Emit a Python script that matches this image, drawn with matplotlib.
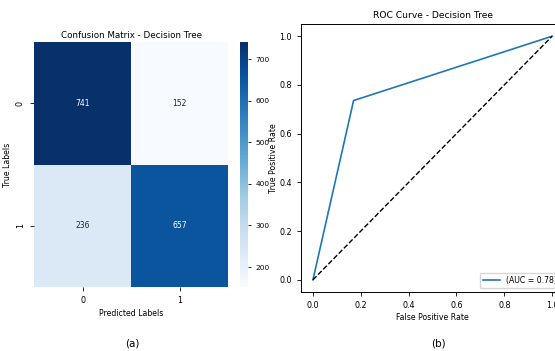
import numpy as np
import matplotlib
matplotlib.use("Agg")
import matplotlib.pyplot as plt
import seaborn as sns

plt.rcParams['font.family'] = ['DejaVu Sans']

# confusion matrix values
class_labels = ['0', '1']
cm = np.array([[741, 152],
               [236, 657]])

# ROC curve points
fpr = [0.0, 0.170, 1.0]
tpr = [0.0, 0.736, 1.0]
auc_value = 0.78
cbar_ticks = [200, 300, 400, 500, 600, 700]
roc_ticks = [0.0, 0.2, 0.4, 0.6, 0.8, 1.0]

fig = plt.figure(figsize=(5.55, 3.51), dpi=100)

ax1 = fig.add_axes([0.0613, 0.1823, 0.3495, 0.698])
cax = fig.add_axes([0.4324, 0.1823, 0.0144, 0.698])
ax2 = fig.add_axes([0.5423, 0.168, 0.474, 0.7635])

# Heatmap
sns.heatmap(cm, annot=True, fmt='d', cmap='Blues', ax=ax1, cbar_ax=cax,
            xticklabels=class_labels, yticklabels=class_labels,
            annot_kws={'fontsize': 5.5})
ax1.set_title('Confusion Matrix - Decision Tree', fontsize=6.3, pad=3)
ax1.set_xlabel('Predicted Labels', fontsize=5.6, labelpad=3)
ax1.set_ylabel('True Labels', fontsize=5.6, labelpad=3)
ax1.tick_params(labelsize=5.8, length=3, width=0.6)
cax.set_yticks(cbar_ticks)
cax.tick_params(labelsize=5.3, length=2, width=0.6)
cax.set_frame_on(False)

# ROC curve
ax2.plot(fpr, tpr, color='#1f77b4', lw=1.2, label=f'(AUC = {auc_value:.2f})')
ax2.plot([0, 1], [0, 1], 'k--', lw=1.0)
ax2.set_xlim(-0.05, 1.05)
ax2.set_ylim(-0.05, 1.05)
ax2.set_xticks(roc_ticks)
ax2.set_yticks(roc_ticks)
ax2.set_title('ROC Curve - Decision Tree', fontsize=6.6, pad=4)
ax2.set_xlabel('False Positive Rate', fontsize=5.6, labelpad=2)
ax2.set_ylabel('True Positive Rate', fontsize=5.6, labelpad=1)
ax2.tick_params(labelsize=5.8, length=3, width=0.6)
for s in ax2.spines.values():
    s.set_linewidth(0.7)
ax2.legend(loc='lower right', fontsize=5.6, handlelength=2.2, borderpad=0.4)

fig.text(132 / 555, 1 - 343 / 351, '(a)', fontsize=7.5, ha='center', va='center')
fig.text(438 / 555, 1 - 343 / 351, '(b)', fontsize=7.5, ha='center', va='center')

fig.savefig('out.png', dpi=100)
